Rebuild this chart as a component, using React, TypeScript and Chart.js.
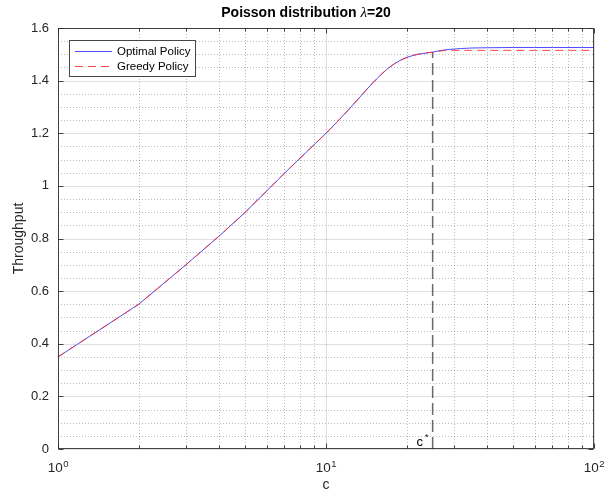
import React, { useEffect, useRef } from "react";
import { Chart, registerables } from "chart.js";

Chart.register(...registerables);

// ---- data ----
const capacities = [1, 2, 3, 4, 5, 6, 7, 8, 9, 10, 11, 12, 13, 14, 15, 16, 17, 18, 19, 20, 21, 22, 23, 24, 25, 26, 27, 28, 29, 30, 32, 35, 40, 50, 60, 70, 80, 90, 100];
const optimalThroughput = [0.35, 0.55, 0.70, 0.81, 0.90, 0.98, 1.048, 1.105, 1.155, 1.2, 1.243, 1.284, 1.323, 1.36, 1.393, 1.422, 1.446, 1.464, 1.478, 1.488, 1.495, 1.5, 1.503, 1.506, 1.508, 1.512, 1.515, 1.517, 1.519, 1.52, 1.522, 1.524, 1.525, 1.526, 1.526, 1.526, 1.526, 1.526, 1.526];
const greedyThroughput = [0.35, 0.55, 0.70, 0.81, 0.90, 0.98, 1.048, 1.105, 1.155, 1.2, 1.243, 1.284, 1.323, 1.36, 1.393, 1.422, 1.446, 1.464, 1.478, 1.488, 1.495, 1.5, 1.503, 1.506, 1.508, 1.511, 1.513, 1.515, 1.515, 1.515, 1.515, 1.515, 1.515, 1.515, 1.515, 1.515, 1.515, 1.515, 1.515];
const cStar = 25;
const cStarValue = 1.508;
const yTicks = [0, 0.2, 0.4, 0.6, 0.8, 1.0, 1.2, 1.4, 1.6];
const xMajorTicks = [1, 10, 100];
const xMinorTicks = [2, 3, 4, 5, 6, 7, 8, 9, 20, 30, 40, 50, 60, 70, 80, 90];
const xTickBase = "10";
const xTickExponents: Record<number, string> = { 1: "0", 10: "1", 100: "2" };
const seriesNames = ["Optimal Policy", "Greedy Policy"];
const titleParts = ["Poisson distribution ", "\u03BB", "=20"];
const xTitle = "c";
const yTitle = "Throughput";

const SANS = '"Liberation Sans", Arial, Helvetica, sans-serif';
const AXIS_COLOR = "#262626";
const BLUE = "rgba(45,45,255,0.85)";
const RED = "rgba(255,40,40,0.85)";

const matlabPlugin = {
  id: "matlabDecor",
  beforeDatasetsDraw(chart: any) {
    const { ctx, chartArea: a, scales } = chart;
    const xs = scales.x, ys = scales.y;
    ctx.save();
    // minor grid (dotted)
    ctx.strokeStyle = "rgba(38,38,38,0.3)";
    ctx.lineWidth = 1;
    ctx.setLineDash([1, 2]);
    for (const v of xMinorTicks) {
      const px = Math.round(xs.getPixelForValue(v)) + 0.5;
      ctx.beginPath(); ctx.moveTo(px, a.top); ctx.lineTo(px, a.bottom); ctx.stroke();
    }
    for (let i = 0; i < yTicks.length - 1; i++) {
      for (let k = 1; k < 4; k++) {
        const v = yTicks[i] + (k * (yTicks[i + 1] - yTicks[i])) / 4;
        const py = Math.round(ys.getPixelForValue(v)) + 0.5;
        ctx.beginPath(); ctx.moveTo(a.left, py); ctx.lineTo(a.right, py); ctx.stroke();
      }
    }
    // major grid (solid)
    ctx.setLineDash([]);
    ctx.strokeStyle = "rgba(38,38,38,0.15)";
    for (const v of xMajorTicks) {
      const px = Math.round(xs.getPixelForValue(v)) + 0.5;
      ctx.beginPath(); ctx.moveTo(px, a.top); ctx.lineTo(px, a.bottom); ctx.stroke();
    }
    for (const v of yTicks) {
      const py = Math.round(ys.getPixelForValue(v)) + 0.5;
      ctx.beginPath(); ctx.moveTo(a.left, py); ctx.lineTo(a.right, py); ctx.stroke();
    }
    ctx.restore();
  },
  afterDatasetsDraw(chart: any) {
    const { ctx, chartArea: a, scales } = chart;
    const xs = scales.x, ys = scales.y;
    ctx.save();
    // axes box
    ctx.strokeStyle = "rgba(38,38,38,0.85)";
    ctx.lineWidth = 1;
    ctx.setLineDash([]);
    const L = Math.round(a.left) + 0.5, R = Math.round(a.right) - 0.5;
    const T = Math.round(a.top) + 0.5, B = Math.round(a.bottom) - 0.5;
    ctx.strokeRect(L, T, R - L, B - T);
    // ticks
    ctx.beginPath();
    for (const v of yTicks) {
      const py = Math.round(ys.getPixelForValue(v)) + 0.5;
      ctx.moveTo(L, py); ctx.lineTo(L + 5, py);
      ctx.moveTo(R, py); ctx.lineTo(R - 5, py);
    }
    for (const v of xMajorTicks) {
      const px = Math.round(xs.getPixelForValue(v)) + 0.5;
      ctx.moveTo(px, B); ctx.lineTo(px, B - 5);
      ctx.moveTo(px, T); ctx.lineTo(px, T + 5);
    }
    for (const v of xMinorTicks) {
      const px = Math.round(xs.getPixelForValue(v)) + 0.5;
      ctx.moveTo(px, B); ctx.lineTo(px, B - 3);
      ctx.moveTo(px, T); ctx.lineTo(px, T + 3);
    }
    ctx.stroke();

    // x tick labels: 10 with superscript exponent
    ctx.fillStyle = AXIS_COLOR;
    ctx.textBaseline = "alphabetic";
    ctx.textAlign = "left";
    const fBase = `13.5px ${SANS}`;
    const fExp = `9.5px ${SANS}`;
    for (const v of xMajorTicks) {
      const px = xs.getPixelForValue(v);
      ctx.font = fBase; const wb = ctx.measureText(xTickBase).width;
      ctx.font = fExp; const we = ctx.measureText(xTickExponents[v]).width;
      const x0 = px - (wb + we) / 2;
      ctx.font = fBase; ctx.fillText(xTickBase, x0, a.bottom + 22.5);
      ctx.font = fExp; ctx.fillText(xTickExponents[v], x0 + wb + 0.5, a.bottom + 18);
    }

    // c* label
    const cx = xs.getPixelForValue(cStar);
    ctx.fillStyle = "#000";
    ctx.textAlign = "center";
    ctx.font = `13px ${SANS}`;
    ctx.fillText("c", cx - 13, a.bottom - 3);
    ctx.font = `9px ${SANS}`;
    ctx.fillText("*", cx - 6, a.bottom - 9);

    // legend
    const lx = 69.5, ly = 40.5, lw = 126, lh = 36;
    ctx.fillStyle = "#fff";
    ctx.fillRect(lx, ly, lw, lh);
    ctx.strokeStyle = "rgba(38,38,38,0.85)";
    ctx.strokeRect(lx, ly, lw, lh);
    const rows = [
      { name: seriesNames[0], color: BLUE, dash: [] as number[], y: 51.5 },
      { name: seriesNames[1], color: RED, dash: [8, 5], y: 66.5 },
    ];
    ctx.font = `11.5px ${SANS}`;
    ctx.textAlign = "left";
    ctx.textBaseline = "middle";
    for (const r of rows) {
      ctx.strokeStyle = r.color;
      ctx.setLineDash(r.dash);
      ctx.beginPath(); ctx.moveTo(75, r.y); ctx.lineTo(112, r.y); ctx.stroke();
      ctx.fillStyle = "#000";
      ctx.fillText(r.name, 117, r.y + 0.5);
    }
    ctx.setLineDash([]);

    // title
    const fBold = `bold 14px ${SANS}`;
    const fLam = `italic 15px "Liberation Serif", "DejaVu Serif", serif`;
    ctx.font = fBold; const w0 = ctx.measureText(titleParts[0]).width;
    ctx.font = fLam; const w1 = ctx.measureText(titleParts[1]).width;
    ctx.font = fBold; const w2 = ctx.measureText(titleParts[2]).width;
    let tx = 306 - (w0 + w1 + w2) / 2;
    const ty = 13;
    ctx.fillStyle = "#000";
    ctx.textBaseline = "middle";
    ctx.font = fBold; ctx.fillText(titleParts[0], tx, ty); tx += w0;
    ctx.font = fLam; ctx.fillText(titleParts[1], tx, ty); tx += w1;
    ctx.font = fBold; ctx.fillText(titleParts[2], tx, ty);

    // axis titles
    ctx.font = `14px ${SANS}`;
    ctx.fillStyle = AXIS_COLOR;
    ctx.textAlign = "center";
    ctx.fillText(xTitle, (a.left + a.right) / 2, 485);
    ctx.translate(19, (a.top + a.bottom) / 2);
    ctx.rotate(-Math.PI / 2);
    ctx.fillText(yTitle, 0, 0);
    ctx.restore();
  },
};

export default function App() {
  const ref = useRef<HTMLCanvasElement | null>(null);
  useEffect(() => {
    document.body.style.margin = "0";
    if (!ref.current) return;
    const optimalPts = capacities.map((c, i) => ({ x: c, y: optimalThroughput[i] }));
    const greedyPts = capacities.map((c, i) => ({ x: c, y: greedyThroughput[i] }));
    const chart = new Chart(ref.current, {
      type: "line",
      data: {
        datasets: [
          {
            label: seriesNames[1],
            data: greedyPts,
            borderColor: RED,
            borderWidth: 1,
            borderDash: [8, 5],
            pointRadius: 0,
            fill: false,
            tension: 0,
            order: 1,
          },
          {
            label: seriesNames[0],
            data: optimalPts,
            borderColor: BLUE,
            borderWidth: 1,
            pointRadius: 0,
            fill: false,
            tension: 0,
            order: 2,
          },
          {
            label: "c*",
            data: [{ x: cStar, y: 0 }, { x: cStar, y: cStarValue }],
            borderColor: "rgba(90,90,90,0.9)",
            borderWidth: 1.5,
            borderDash: [12, 5],
            pointRadius: 0,
            fill: false,
            order: 3,
          },
        ],
      },
      options: {
        animation: false,
        responsive: false,
        maintainAspectRatio: false,
        parsing: true,
        layout: { padding: { top: 28, right: 11, bottom: 0, left: 0 } },
        plugins: { legend: { display: false }, tooltip: { enabled: false }, title: { display: false } },
        scales: {
          x: {
            type: "logarithmic",
            min: 1,
            max: 100,
            grid: { display: false, drawTicks: false },
            border: { display: false },
            afterBuildTicks: (scale: any) => {
              scale.ticks = [...xMajorTicks, ...xMinorTicks].sort((p, q) => p - q).map((v) => ({ value: v }));
            },
            afterFit: (scale: any) => {
              scale.height = 42;
              scale.paddingLeft = 0;
              scale.paddingRight = 0;
            },
            ticks: { display: false, autoSkip: false },
          },
          y: {
            type: "linear",
            min: 0,
            max: 1.6,
            grid: { display: false, drawTicks: false },
            border: { display: false },
            afterBuildTicks: (scale: any) => {
              scale.ticks = yTicks.map((v) => ({ value: v }));
            },
            afterFit: (scale: any) => {
              scale.width = 58;
              scale.paddingTop = 0;
              scale.paddingBottom = 0;
            },
            ticks: {
              padding: 9,
              color: AXIS_COLOR,
              font: { family: SANS, size: 13 },
              callback: (value: any) => String(Number(Number(value).toFixed(1))),
            },
          },
        },
      },
      plugins: [matlabPlugin],
    } as any);
    return () => chart.destroy();
  }, []);
  return (
    <div style={{ position: "absolute", left: 0, top: 0, width: 605, height: 491, background: "#fff" }}>
      <canvas ref={ref} width={605} height={491} style={{ display: "block" }} />
    </div>
  );
}
